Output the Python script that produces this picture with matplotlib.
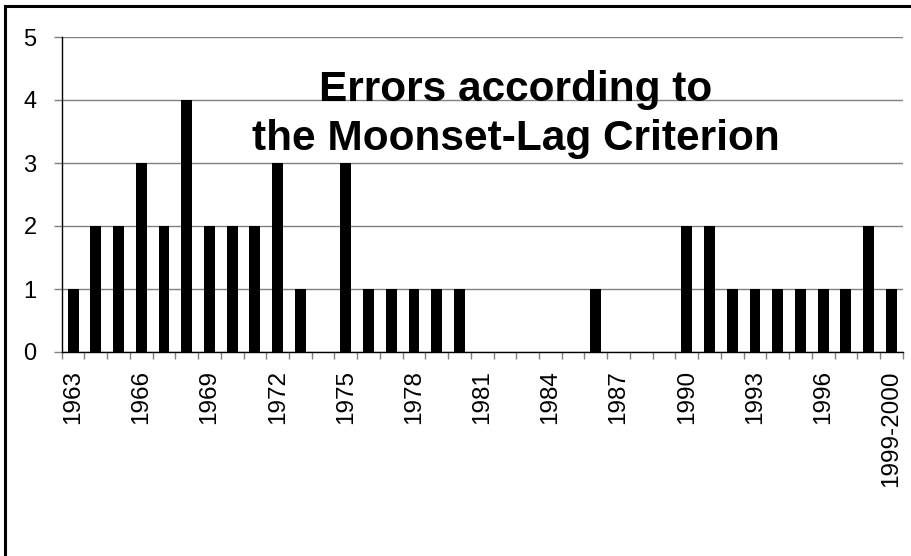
import matplotlib.pyplot as plt
from matplotlib.patches import Rectangle
import numpy as np

plt.rcParams['font.family'] = ['Liberation Sans', 'DejaVu Sans']

years = [str(y) for y in range(1963, 1999)] + ["1999-2000"]
errors = [1, 2, 2, 3, 2, 4, 2, 2, 2, 3, 1, 0, 3, 1, 1, 1, 1, 1,
          0, 0, 0, 0, 0, 1, 0, 0, 0, 2, 2, 1, 1, 1, 1, 1, 1, 2, 1]
yticks = [0, 1, 2, 3, 4, 5]
title_lines = ["Errors according to", "the Moonset-Lag Criterion"]

fig = plt.figure(figsize=(9.11, 5.56), dpi=100)
ax = fig.add_axes([61.7 / 911, 204 / 556, 841 / 911, 315 / 556])

x = np.arange(len(years))
ax.bar(x, errors, width=0.48, color="black", zorder=3)

ax.set_xlim(-0.5, len(years) - 0.5)
ax.set_ylim(0, 5)
ax.set_yticks(yticks)
ax.yaxis.grid(True, color="#808080", linewidth=1.0, zorder=0)

# ticks at category boundaries, labels centred under every third bar
ax.set_xticks(np.arange(-0.5, len(years), 1.0))
ax.set_xticklabels([])
ax.tick_params(axis="x", which="major", length=5, width=1, direction="out", color="#808080")
shown = x[::3]
ax.set_xticks(shown, minor=True)
ax.set_xticklabels([years[i] for i in shown], minor=True, rotation=90, fontsize=17.5)
ax.tick_params(axis="x", which="minor", length=0, pad=13)
ax.tick_params(axis="y", length=6, width=1, pad=12, labelsize=17, color="#808080")

for s in ["top", "right"]:
    ax.spines[s].set_visible(False)
ax.spines["left"].set_linewidth(1)
ax.spines["bottom"].set_linewidth(1)

# title sits inside the plot, two lines on their own baselines
ax.text(0.540, 3.99, title_lines[0], transform=ax.get_yaxis_transform(),
        ha="center", va="baseline", fontsize=30.5, fontweight="bold", zorder=4)
ax.text(0.540, 3.21, title_lines[1], transform=ax.get_yaxis_transform(),
        ha="center", va="baseline", fontsize=30.5, fontweight="bold", zorder=4)

# outer chart frame (cropped on right and bottom)
fig.patches.append(Rectangle((4.5 / 911, -0.1), 1.2, (556 - 5.5) / 556 + 0.1,
                             transform=fig.transFigure, fill=False,
                             edgecolor="black", linewidth=2.2))

fig.savefig("out.png", dpi=100)
